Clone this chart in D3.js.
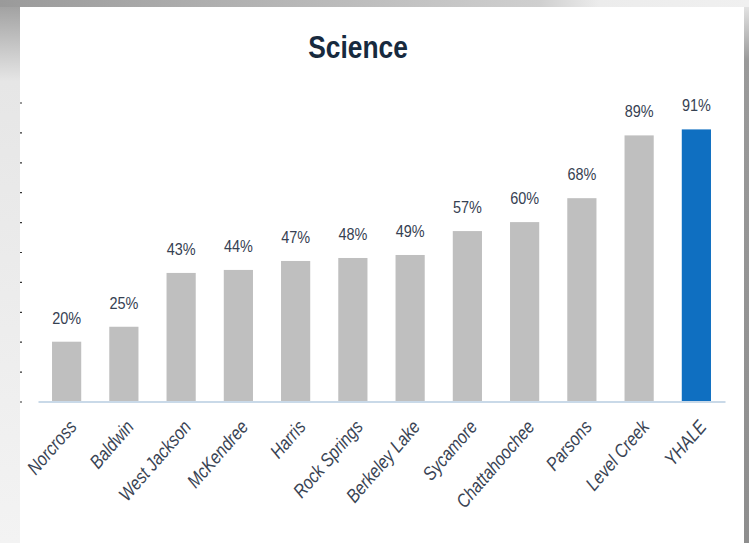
<!DOCTYPE html>
<html>
<head>
<meta charset="utf-8">
<script src="https://cdn.jsdelivr.net/npm/d3@7/dist/d3.min.js"></script>
<style>
  html, body { margin: 0; padding: 0; background: #f2f2f2; }
  svg { display: block; }
</style>
</head>
<body>
<svg id="chart" width="749" height="543"></svg>
<script>
const title = "Science";
const categories = ["Norcross", "Baldwin", "West Jackson", "McKendree", "Harris", "Rock Springs", "Berkeley Lake", "Sycamore", "Chattahoochee", "Parsons", "Level Creek", "YHALE"];
const values = [20, 25, 43, 44, 47, 48, 49, 57, 60, 68, 89, 91];
const highlight = "YHALE";
const yTicks = [0, 10, 20, 30, 40, 50, 60, 70, 80, 90, 100];

const svg = d3.select("#chart");
const W = 749, H = 543;
const defs = svg.append("defs");
const FONT = "'Liberation Sans', Arial, sans-serif";

// frame decoration
const gTop = defs.append("linearGradient").attr("id", "gTop").attr("x1", 0).attr("x2", 1).attr("y1", 0).attr("y2", 0);
gTop.append("stop").attr("offset", "0").attr("stop-color", "#9a9a9a");
gTop.append("stop").attr("offset", "0.72").attr("stop-color", "#cfcfcf");
gTop.append("stop").attr("offset", "0.8").attr("stop-color", "#ececec");
gTop.append("stop").attr("offset", "1").attr("stop-color", "#f0f0f0");
const gLeft = defs.append("linearGradient").attr("id", "gLeft").attr("x1", 0).attr("x2", 0).attr("y1", 0).attr("y2", 1);
gLeft.append("stop").attr("offset", "0").attr("stop-color", "#9c9c9c");
gLeft.append("stop").attr("offset", "0.15").attr("stop-color", "#e6e6e6");
gLeft.append("stop").attr("offset", "1").attr("stop-color", "#f3f3f3");
const gRight = defs.append("linearGradient").attr("id", "gRight").attr("x1", 0).attr("x2", 0).attr("y1", 0).attr("y2", 1);
gRight.append("stop").attr("offset", "0").attr("stop-color", "#e2e2e2");
gRight.append("stop").attr("offset", "0.1").attr("stop-color", "#9a9a9a");
gRight.append("stop").attr("offset", "1").attr("stop-color", "#8e8e8e");

svg.append("rect").attr("x", 0).attr("y", 0).attr("width", W).attr("height", H).attr("fill", "#f2f2f2");
svg.append("rect").attr("x", 0).attr("y", 0).attr("width", 20).attr("height", H).attr("fill", "url(#gLeft)");
svg.append("rect").attr("x", 0).attr("y", 0).attr("width", W).attr("height", 7).attr("fill", "url(#gTop)");
svg.append("rect").attr("x", 744).attr("y", 7).attr("width", 5).attr("height", H - 7).attr("fill", "url(#gRight)");
svg.append("rect").attr("x", 20).attr("y", 7).attr("width", 724).attr("height", H - 7).attr("fill", "#ffffff");

// scales
const x = d3.scaleBand().domain(categories).range([38, 725]).paddingInner(0.49).paddingOuter(0.245);
const y = d3.scaleLinear().domain([0, 100]).range([401.5, 102.5]);

// title (narrowed Liberation Sans Bold)
svg.append("text")
  .attr("transform", "translate(358,58) scale(0.85,1)")
  .attr("text-anchor", "middle")
  .attr("font-family", FONT)
  .attr("font-weight", "bold")
  .attr("font-size", 31)
  .attr("fill", "#172a3e")
  .text(title);

// clipped y axis ticks (tiny marks at the left edge)
const yAxis = d3.axisLeft(y).tickValues(yTicks).tickSize(2).tickFormat("");
const ya = svg.append("g").attr("transform", "translate(22,0)").call(yAxis);
ya.select(".domain").remove();
ya.selectAll(".tick line").attr("stroke", "#333").attr("stroke-width", 1.2);

// bars
svg.append("g").selectAll("rect").data(categories).join("rect")
  .attr("x", d => x(d))
  .attr("width", x.bandwidth())
  .attr("y", (d, i) => y(values[i]))
  .attr("height", (d, i) => y(0) - y(values[i]))
  .attr("fill", d => d === highlight ? "#0f6fc1" : "#bfbfbf");

// baseline axis
const xAxis = d3.axisBottom(x).tickSize(0).tickFormat("");
const xa = svg.append("g").attr("transform", `translate(0,${y(0)})`).call(xAxis);
xa.select(".domain").attr("stroke", "#c9d9e8").attr("stroke-width", 2);

// value labels (narrowed)
svg.append("g").selectAll("text").data(categories).join("text")
  .attr("transform", (d, i) => `translate(${x(d) + x.bandwidth() / 2},${y(values[i]) - 18}) scale(0.85,1)`)
  .attr("text-anchor", "middle")
  .attr("font-family", FONT)
  .attr("font-size", 17)
  .attr("fill", "#364152")
  .text((d, i) => values[i] + "%");

// category labels (narrowed italic, rotated)
svg.append("g").selectAll("text").data(categories).join("text")
  .attr("transform", d => `translate(${x(d) + x.bandwidth() / 2 + 11},${y(0) + 26}) rotate(-49) scale(0.84,1)`)
  .attr("text-anchor", "end")
  .attr("font-family", FONT)
  .attr("font-style", "italic")
  .attr("font-size", 19)
  .attr("fill", "#3a4454")
  .text(d => d);
</script>
</body>
</html>
